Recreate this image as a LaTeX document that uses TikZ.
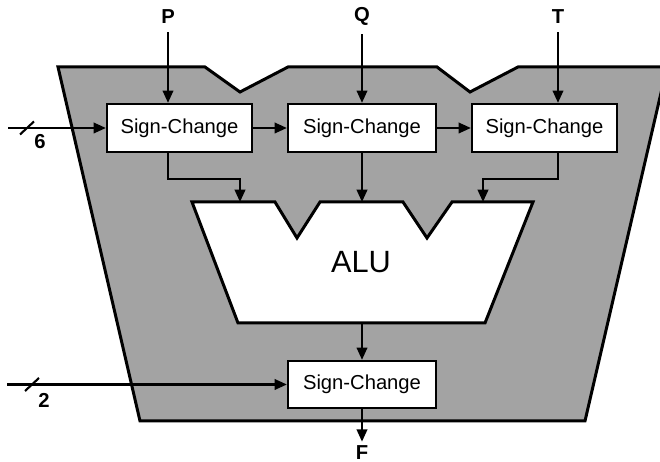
\documentclass[tikz,border=0pt]{standalone}
\usepackage{fontspec}
\setmainfont{Liberation Sans}
\usetikzlibrary{arrows.meta}

\begin{document}
\begin{tikzpicture}[
    x=0.02cm, y=0.02cm,
    every node/.style={font=\fontsize{11.5}{13}\selectfont},
    signbox/.style={draw, fill=white, line width=1.3pt, minimum width=2.9cm, minimum height=0.96cm, inner sep=0pt},
    slab/.style={fill=black!36, draw=black, line width=1.7pt, line join=miter},
    alushape/.style={fill=white, draw=black, line width=1.7pt, line join=miter},
    wire/.style={line width=1.2pt, -{Triangle[length=7pt,width=6pt]}},
    sig/.style={font=\bfseries\fontsize{11.5}{13}\selectfont, inner sep=0pt},
    busmark/.style={line width=1.2pt},
]

\useasboundingbox (0,0) rectangle (660,462);
\clip (0,0) rectangle (660,462);

% Chip body (notched trapezoid)
\filldraw[slab] (58,395) -- (205,395) -- (240,370) -- (288,395) -- (437,395) -- (470,370)
    -- (518,395) -- (667,395) -- (585,41) -- (140,41) -- cycle;

% ALU with its two input notches
\filldraw[alushape] (192,260) -- (275,260) -- (297,224) -- (320,260) -- (403,260) -- (427,224)
    -- (452,260) -- (533,260) -- (485,139) -- (238,139) -- cycle;
\node (alu) at (361,200) {\fontsize{17.5}{20}\selectfont ALU};
\coordinate (alu1) at (240,260);
\coordinate (alu2) at (362,260);
\coordinate (alu3) at (483,260);
\coordinate (aluout) at (362,139);

% Sign-change stages
\node[signbox] (sc1) at (179.5,334) {Sign-Change};
\node[signbox, minimum width=2.96cm] (sc2) at (362,334) {Sign-Change};
\node[signbox] (sc3) at (544.5,334) {Sign-Change};
\node[signbox, minimum width=2.96cm, minimum height=0.94cm] (sc4) at (362,77.5) {Sign-Change};

% Operands and result
\node[sig] (p) at (168,445.5) {P};
\node[sig] (q) at (362,445.5) {Q};
\node[sig] (t) at (558,445.5) {T};
\node[sig] (f) at (362,9) {F};

\draw[wire, shorten <=0.17cm] (p) -- (sc1.north -| p);
\draw[wire, shorten <=0.17cm] (q) -- (sc2.north -| q);
\draw[wire, shorten <=0.17cm] (t) -- (sc3.north -| t);

% Chain of control through the stages
\draw[wire] (sc1) -- (sc2);
\draw[wire] (sc2) -- (sc3);

% Into the ALU
\draw[wire] (sc1.south -| p) -- ++(0,-26) -| (alu1);
\draw[wire] (sc2) -- (alu2);
\draw[wire] (sc3.south -| t) -- ++(0,-26) -| (alu3);

% Out of the ALU
\draw[wire] (aluout) -- (sc4);
\draw[wire, shorten >=0.08cm] (sc4) -- (f);

% Control buses
\coordinate (in6) at (8,334);
\coordinate (bus6) at (27,334);
\draw[wire] (in6) -- (sc1);
\draw[busmark] (bus6) ++(-7,-6.5) -- ++(14,13);
\node[sig] (n6) at (40,320) {6};

\coordinate (in2) at (7,77.5);
\coordinate (bus2) at (32,77.5);
\draw[wire] (in2) -- (sc4.west);
\draw[busmark] (bus2) ++(-7,-6.5) -- ++(14,13);
\node[sig] (n2) at (44,62) {2};

\end{tikzpicture}
\end{document}
